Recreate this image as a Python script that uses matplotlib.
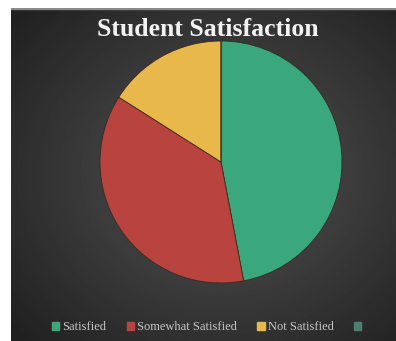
import numpy as np
import matplotlib.pyplot as plt
from matplotlib.patches import Rectangle

labels = ["Satisfied", "Somewhat Satisfied", "Not Satisfied", ""]
values = [47, 37, 16, 0]
colors = ["#3aa87c", "#b8433f", "#e8b84b", "#4d7f70"]

fig = plt.figure(figsize=(3.96, 3.41), dpi=100)
fig.patch.set_facecolor("white")

# dark panel with a soft radial glow
bg = fig.add_axes([11 / 396, 0, 385 / 396, 333 / 341])
bg.set_axis_off()
yy, xx = np.mgrid[0:1:300j, 0:1:300j]
r = np.sqrt((xx - 0.55) ** 2 + (yy - 0.5) ** 2)
shade = np.clip(0.33 - 0.28 * r, 0.13, 0.33)
bg.imshow(shade, cmap="gray", vmin=0, vmax=1, extent=[0, 1, 0, 1],
          aspect="auto", interpolation="bilinear")
bg.add_patch(Rectangle((0, 0.997), 1, 0.003, color="#8a8a8a",
                       transform=bg.transAxes))

fig.text(208 / 396, 1 - 30 / 341, "Student Satisfaction", ha="center",
         va="center", color="#f2f2f2", fontsize=18.5, fontweight="bold",
         family="Liberation Serif")

ax = fig.add_axes([(221 - 121) / 396, 1 - (162 + 121) / 341,
                   242 / 396, 242 / 341])
wedges, _ = ax.pie(values, colors=colors, startangle=90, counterclock=False,
                   wedgeprops=dict(edgecolor="#3a2a20", linewidth=0.6))
ax.set_xlim(-1.0, 1.0)
ax.set_ylim(-1.0, 1.0)
ax.set_aspect("equal")

handles = [Rectangle((0, 0), 1, 1, color=c) for c in colors]
leg = fig.legend(handles, labels, loc="center", ncol=4,
                 bbox_to_anchor=(208 / 396, 1 - 327 / 341), frameon=False,
                 handlelength=0.6, handleheight=0.6, handletextpad=0.25,
                 columnspacing=1.6,
                 prop=dict(family="Liberation Serif", size=9))
for t in leg.get_texts():
    t.set_color("#c8c8c8")

fig.savefig("out.png", dpi=100, facecolor=fig.get_facecolor())
